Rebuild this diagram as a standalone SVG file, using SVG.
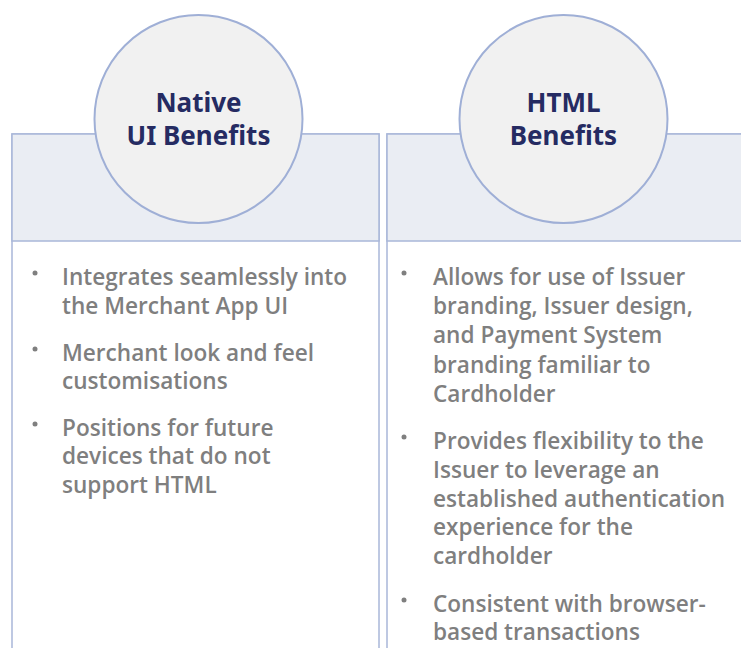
<svg xmlns="http://www.w3.org/2000/svg" width="741" height="648" viewBox="0 0 741 648">
  <style>
    .panel { fill: #ffffff; stroke: #a9b7d9; stroke-width: 1.5; }
    .band { fill: #eaedf3; stroke: #a9b7d9; stroke-width: 1.5; }
    .badge { fill: #f1f1f1; stroke: #9fafd6; stroke-width: 2; }
    .title { font-family: "Noto Sans", "Open Sans", sans-serif; font-weight: bold; font-size: 26px; fill: #252b62; text-anchor: middle; }
    .item { font-family: "Open Sans", "Noto Sans", sans-serif; font-weight: 600; font-size: 22.6px; fill: #7f7f7f; }
    .dot { fill: #7f7f7f; }
  </style>

  <rect width="741" height="648" fill="#ffffff"/>

  <!-- Native UI column -->
  <g id="native-ui">
    <rect class="panel" x="12" y="134" width="367" height="530"/>
    <rect class="band" x="12" y="134" width="367" height="107"/>
    <circle class="badge" cx="198.5" cy="119" r="104"/>
    <text class="title" x="198.5" y="112">Native</text>
    <text class="title" x="198.5" y="145">UI Benefits</text>
    <circle class="dot" cx="35" cy="273" r="2.5"/>
    <text class="item" x="62" y="285">Integrates seamlessly into</text>
    <text class="item" x="62" y="314">the Merchant App UI</text>
    <circle class="dot" cx="35" cy="349" r="2.5"/>
    <text class="item" x="62" y="361">Merchant look and feel</text>
    <text class="item" x="62" y="389">customisations</text>
    <circle class="dot" cx="35" cy="424" r="2.5"/>
    <text class="item" x="62" y="436">Positions for future</text>
    <text class="item" x="62" y="464">devices that do not</text>
    <text class="item" x="62" y="493">support HTML</text>
  </g>

  <!-- HTML column -->
  <g id="html">
    <rect class="panel" x="387" y="134" width="370" height="530"/>
    <rect class="band" x="387" y="134" width="370" height="107"/>
    <circle class="badge" cx="563.5" cy="119" r="104"/>
    <text class="title" x="563.5" y="112">HTML</text>
    <text class="title" x="563.5" y="145">Benefits</text>
    <circle class="dot" cx="404" cy="273" r="2.5"/>
    <text class="item" x="433" y="285">Allows for use of Issuer</text>
    <text class="item" x="433" y="314">branding, Issuer design,</text>
    <text class="item" x="433" y="343">and Payment System</text>
    <text class="item" x="433" y="373">branding familiar to</text>
    <text class="item" x="433" y="402">Cardholder</text>
    <circle class="dot" cx="404" cy="437" r="2.5"/>
    <text class="item" x="433" y="449">Provides flexibility to the</text>
    <text class="item" x="433" y="478">Issuer to leverage an</text>
    <text class="item" x="433" y="507">established authentication</text>
    <text class="item" x="433" y="535">experience for the</text>
    <text class="item" x="433" y="564">cardholder</text>
    <circle class="dot" cx="404" cy="600" r="2.5"/>
    <text class="item" x="433" y="612">Consistent with browser-</text>
    <text class="item" x="433" y="640">based transactions</text>
  </g>
</svg>
